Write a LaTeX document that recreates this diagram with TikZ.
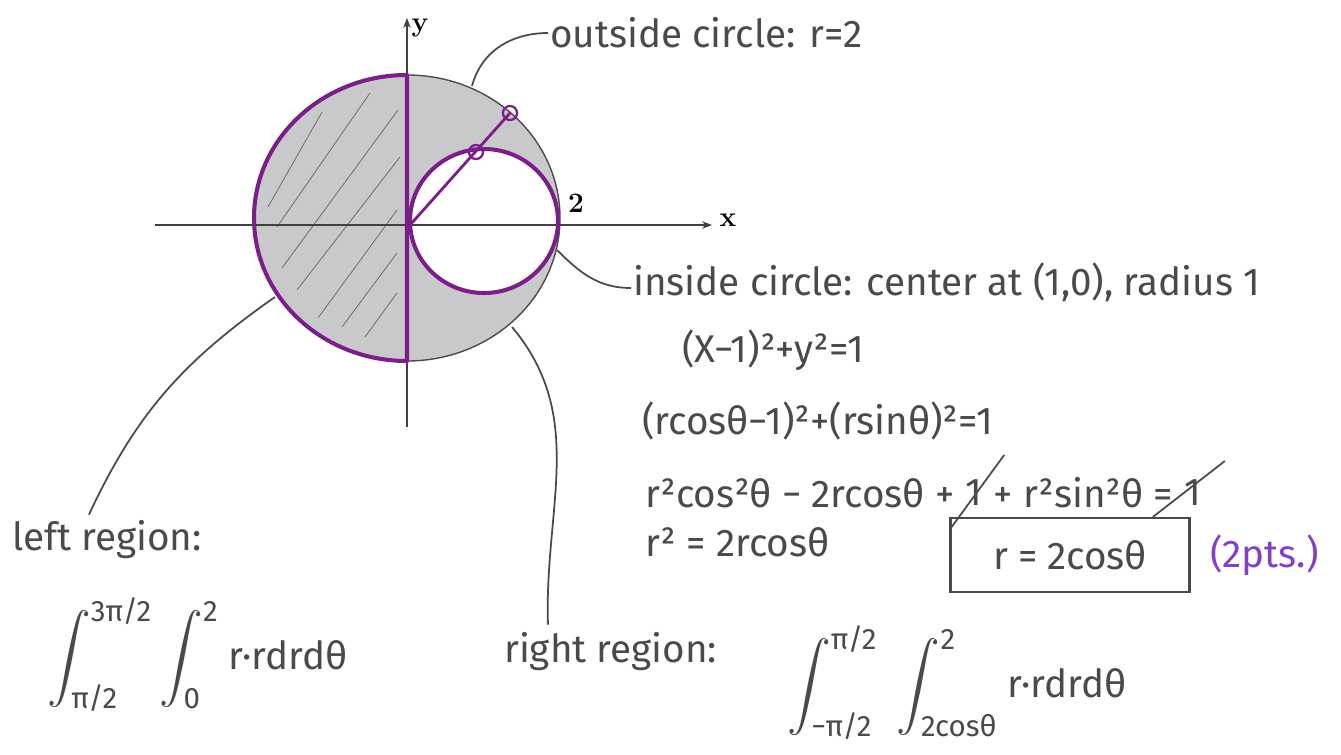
\documentclass[tikz,border=0pt]{standalone}
\usepackage{amsmath}
\usepackage{fontspec}
\usepackage{tikz}
\usetikzlibrary{arrows.meta,positioning}
\newfontfamily\handfont{Fira Sans}
\definecolor{pencil}{HTML}{4A4A4A}
\definecolor{markerPurple}{HTML}{7A1E88}
\definecolor{inkViolet}{HTML}{8040C8}
\definecolor{shadeGray}{HTML}{C9C9CB}

\begin{document}
\begin{tikzpicture}[
  x=0.02cm, y=0.02cm,
  hand/.style={font=\handfont\fontsize{22}{26}\selectfont,text=pencil,inner sep=1pt},
  typed/.style={font=\bfseries\fontsize{16}{18}\selectfont,inner sep=0pt},
  axis/.style={-{Stealth[length=2mm,width=1.5mm]},draw=black!75,line width=0.6pt},
  leader/.style={draw=pencil,line width=1pt},
  rim/.style={draw=markerPurple,line width=2.3pt,line join=round},
  hatch/.style={draw=black!55,line width=0.5pt},
  ring/.style={circle,draw=markerPurple,line width=1.3pt,minimum size=8pt,inner sep=0pt},
  answer/.style={hand,draw=pencil,line width=1.2pt,minimum width=136pt,minimum height=42pt}
]
\useasboundingbox (-407,-529) rectangle (934,225);
\fill[white] (-407,-529) rectangle (934,225);

% shaded region between the circles
\fill[shadeGray] (0,7) ellipse [x radius=153, y radius=143];
\fill[white] (77,4) ellipse [x radius=74, y radius=72];
\draw[black!70,line width=0.8pt] (0,7) ellipse [x radius=153, y radius=143];
\draw[hatch] (-139,18) -- (-85,113) (-130,-2) -- (-37,132) (-125,-43) -- (-9,115)
  (-110,-65) -- (-7,68) (-89,-93) -- (-10,15) (-65,-102) -- (-10,-28) (-42,-112) -- (-10,-68);

\draw[axis] (-252,0) -- (305,0);
\draw[axis] (0,-202) -- (0,207);
\node[typed] (ylab) at (13,197) {y};
\node[typed] (xlab) at (321,5) {x};
\node[typed] (two) at (169,22) {2};

\draw[rim] (0,150) arc[start angle=90, end angle=270, x radius=153, y radius=143] -- cycle;
\draw[rim] (77,4) ellipse [x radius=74, y radius=72];

\coordinate (O) at (3,0);
\node[ring] (pin) at (69,73) {};
\node[ring] (tip) at (103,112) {};
\draw[markerPurple,line width=1.6pt] (O) -- (tip.center);

% labels and working
\node[hand,anchor=west] (outside) at (141,192) {outside circle: r=2};
\node[hand,anchor=west] (inside) at (224,-57) {inside circle: center at (1,0), radius 1};
\node[hand,anchor=west] (eq1) at (273,-125) {(X−1)²+y²=1};
\node[hand,anchor=west] (eq2) at (233,-196) {(rcosθ−1)²+(rsinθ)²=1};
\node[hand,anchor=west] (eq3a) at (236,-268) {r²cos²θ − 2rcosθ +};
\node[hand,inner xsep=5pt,right=0pt of eq3a] (one1) {1};
\node[hand,right=0pt of one1] (eq3b) {+ r²sin²θ =};
\node[hand,inner xsep=5pt,right=0pt of eq3b] (one2) {1};
\node[hand,anchor=west] (eq4) at (236,-317) {r² = 2rcosθ};
\node[answer] (ans) at (663,-330) {r = 2cosθ};
\node[hand,text=inkViolet,right=10pt of ans] (pts) {(2pts.)};

\draw[leader] ([shift={(-24,-36)}]one1.center) -- ([shift={(30,38)}]one1.center);
\draw[leader] ([shift={(-40,-24)}]one2.center) -- ([shift={(32,32)}]one2.center);

\node[hand,anchor=west] (leftlab) at (-397,-315) {left region:};
\node[hand,anchor=west] (leftint) at (-362,-430)
  {{\fontsize{24}{28}\selectfont$\displaystyle\int_{\text{π/2}}^{\text{3π/2}}\int_{\text{0}}^{\text{2}}$} r·rdrdθ};
\node[hand,anchor=west] (rightlab) at (95,-427) {right region:};
\node[hand,anchor=west] (rightint) at (378,-458)
  {{\fontsize{24}{28}\selectfont$\displaystyle\int_{\text{−π/2}}^{\text{π/2}}\;\int_{\text{2cosθ}}^{\text{2}}$} r·rdrdθ};

\coordinate (outsideTouch) at (65,139);
\coordinate (insideTouch) at (150,-25);
\coordinate (leftTouch) at (-132,-72);
\coordinate (rightTouch) at (105,-102);
\draw[leader] (outsideTouch) to[out=75,in=180] (outside.west);
\draw[leader] (insideTouch) to[out=-45,in=180] ([shift={(0,-6)}]inside.west);
\draw[leader] (leftTouch) to[out=215,in=65] ([shift={(-18,4)}]leftlab.north);
\draw[leader] (rightTouch) to[out=-50,in=92] ([shift={(46,6)}]rightlab.north west);
\end{tikzpicture}
\end{document}
